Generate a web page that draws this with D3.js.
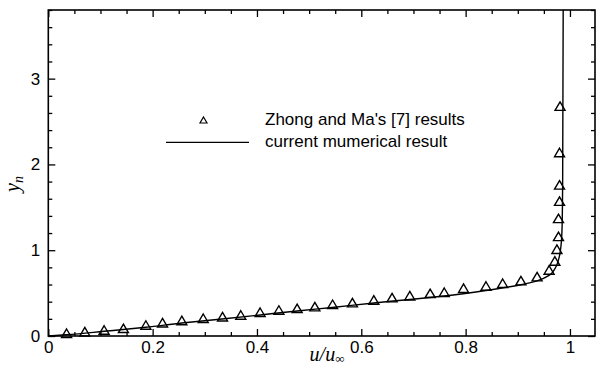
<!DOCTYPE html>
<html>
<head>
<meta charset="utf-8">
<script src="https://cdn.jsdelivr.net/npm/d3@7"></script>
<style>
  html, body { margin: 0; padding: 0; background: #fff; }
  svg { display: block; }
  .tick text { font-family: "Liberation Sans", Arial, sans-serif; font-size: 17px; fill: #000; }
</style>
</head>
<body>
<svg id="chart" width="596" height="373"></svg>
<script>
// Reference data (Zhong & Ma): velocity ratio u/u_inf vs wall-normal coordinate y_n
const refU = [0.035, 0.070, 0.107, 0.144, 0.187, 0.219, 0.256, 0.297, 0.334, 0.369,
              0.406, 0.442, 0.477, 0.511, 0.545, 0.583, 0.624, 0.659, 0.693, 0.732,
              0.759, 0.796, 0.839, 0.871, 0.906, 0.937, 0.960, 0.971, 0.975, 0.978,
              0.978, 0.980, 0.980, 0.980, 0.981];
const refY = [0.032, 0.050, 0.070, 0.090, 0.128, 0.155, 0.181, 0.207, 0.225, 0.245,
              0.277, 0.303, 0.323, 0.342, 0.370, 0.389, 0.420, 0.447, 0.470, 0.498,
              0.510, 0.557, 0.583, 0.615, 0.645, 0.692, 0.770, 0.875, 1.012, 1.161,
              1.371, 1.572, 1.762, 2.139, 2.680];

// Current numerical profile
const numU = [0, 0.034, 0.107, 0.187, 0.256, 0.333, 0.406, 0.477, 0.544, 0.624,
              0.693, 0.759, 0.839, 0.904, 0.937, 0.960, 0.971, 0.979, 0.983, 0.985,
              0.986, 0.987];
const numY = [0, 0.014, 0.055, 0.102, 0.152, 0.198, 0.245, 0.292, 0.333, 0.385,
              0.426, 0.467, 0.531, 0.595, 0.642, 0.706, 0.782, 0.910, 1.062, 1.295,
              1.820, 3.800];

const xMajor = [0, 0.2, 0.4, 0.6, 0.8, 1];
const yMajor = [0, 1, 2, 3];
const xLabels = ["0", "0.2", "0.4", "0.6", "0.8", "1"];
const yLabels = ["0", "1", "2", "3"];
const legendLabels = ["Zhong and Ma's [7] results", "current mumerical result"];

const svg = d3.select("#chart");
const plotL = 48.3, plotR = 595, plotT = 10, plotB = 336;

const x = d3.scaleLinear().domain([0, 1.048]).range([plotL, plotR]);
const y = d3.scaleLinear().domain([0, 3.8]).range([plotB, plotT]);

const xMinor = d3.range(0, 1.05, 0.05).filter(v => !xMajor.some(m => Math.abs(m - v) < 1e-6));
const yMinor = d3.range(0, 3.81, 0.2).filter(v => !yMajor.some(m => Math.abs(m - v) < 1e-6));

function styleAxis(g) {
  g.select(".domain").remove();
  g.selectAll(".tick line").attr("stroke", "#000").attr("stroke-width", 1.3);
}

// Bottom axis: labels + inward major ticks
svg.append("g").attr("transform", `translate(0,${plotB})`)
  .call(d3.axisBottom(x).tickValues(xMajor).tickFormat((d, i) => xLabels[i])
        .tickSizeInner(-7).tickSizeOuter(0).tickPadding(5))
  .call(styleAxis);
svg.append("g").attr("transform", `translate(0,${plotB})`)
  .call(d3.axisBottom(x).tickValues(xMinor).tickFormat("").tickSizeInner(-4).tickSizeOuter(0))
  .call(styleAxis);

// Top axis ticks
svg.append("g").attr("transform", `translate(0,${plotT})`)
  .call(d3.axisTop(x).tickValues(xMajor).tickFormat("").tickSizeInner(-7).tickSizeOuter(0))
  .call(styleAxis);
svg.append("g").attr("transform", `translate(0,${plotT})`)
  .call(d3.axisTop(x).tickValues(xMinor).tickFormat("").tickSizeInner(-4).tickSizeOuter(0))
  .call(styleAxis);

// Left axis
svg.append("g").attr("transform", `translate(${plotL},0)`)
  .call(d3.axisLeft(y).tickValues(yMajor).tickFormat((d, i) => yLabels[i])
        .tickSizeInner(-7).tickSizeOuter(0).tickPadding(8))
  .call(styleAxis);
svg.append("g").attr("transform", `translate(${plotL},0)`)
  .call(d3.axisLeft(y).tickValues(yMinor).tickFormat("").tickSizeInner(-4).tickSizeOuter(0))
  .call(styleAxis);

// Right axis ticks
svg.append("g").attr("transform", `translate(${plotR},0)`)
  .call(d3.axisRight(y).tickValues(yMajor).tickFormat("").tickSizeInner(-7).tickSizeOuter(0))
  .call(styleAxis);
svg.append("g").attr("transform", `translate(${plotR},0)`)
  .call(d3.axisRight(y).tickValues(yMinor).tickFormat("").tickSizeInner(-4).tickSizeOuter(0))
  .call(styleAxis);

// Plot frame
svg.append("rect")
  .attr("x", plotL).attr("y", plotT)
  .attr("width", plotR - plotL).attr("height", plotB - plotT)
  .attr("fill", "none").attr("stroke", "#000").attr("stroke-width", 1.6);

// Numerical profile line
const line = d3.line().x(d => x(d[0])).y(d => y(d[1])).curve(d3.curveMonotoneY);
svg.append("path")
  .datum(numU.map((u, i) => [u, numY[i]]))
  .attr("d", line)
  .attr("fill", "none").attr("stroke", "#000").attr("stroke-width", 1.4);

// Reference points as open triangles
function tri(w, h) {
  return `M0,${-h / 2}L${w / 2},${h / 2}L${-w / 2},${h / 2}Z`;
}
svg.append("g").selectAll("path")
  .data(refU.map((u, i) => [u, refY[i]]))
  .join("path")
  .attr("transform", d => `translate(${x(d[0])},${y(d[1])})`)
  .attr("d", tri(10, 8.5))
  .attr("fill", "none").attr("stroke", "#000").attr("stroke-width", 1.4);

// Legend
const lg = svg.append("g");
lg.append("path").attr("transform", "translate(203.5,120)").attr("d", tri(7, 6))
  .attr("fill", "none").attr("stroke", "#000").attr("stroke-width", 1.2);
lg.append("line").attr("x1", 166).attr("x2", 249).attr("y1", 142.3).attr("y2", 142.3)
  .attr("stroke", "#000").attr("stroke-width", 1.3);
lg.selectAll("text").data(legendLabels).join("text")
  .attr("x", 265).attr("y", (d, i) => 124.5 + i * 22.5)
  .attr("font-family", "Liberation Sans, Arial, sans-serif")
  .attr("font-size", 17)
  .text(d => d);

// Axis titles
const xt = svg.append("text")
  .attr("x", 327).attr("y", 361).attr("text-anchor", "middle")
  .attr("font-family", "Liberation Serif, Times New Roman, serif")
  .attr("font-size", 20);
xt.append("tspan").attr("font-style", "italic").text("u/u");
xt.append("tspan").attr("font-size", 13).attr("dy", 2).text("\u221E");

const yt = svg.append("text")
  .attr("transform", "translate(19,184) rotate(-90)")
  .attr("text-anchor", "middle")
  .attr("font-family", "Liberation Serif, Times New Roman, serif")
  .attr("font-size", 20).attr("font-style", "italic");
yt.append("tspan").text("y");
yt.append("tspan").attr("font-size", 14).attr("dy", 4).text("n");
</script>
</body>
</html>
